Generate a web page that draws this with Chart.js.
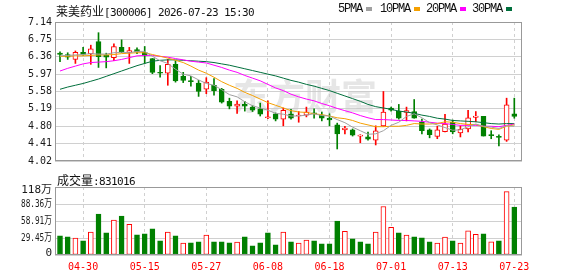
<!DOCTYPE html>
<html>
<head>
    <meta charset="utf-8">
    <title>莱美药业 日K</title>
    <script src="https://cdn.jsdelivr.net/npm/chart.js"></script>
    <style>
        body { margin: 0; background: #fff; }
        #wrap { position: relative; width: 578px; height: 276px; overflow: hidden; }
        #wrap canvas { position: absolute; left: 0; }
        #priceChart { top: 0; }
        #volChart { top: 170px; }
        .txt { position: absolute; white-space: nowrap; color: #111; line-height: 14px; }
        .cjk { font: 12px "Noto Sans CJK SC"; }
        .num { font: 11px "DejaVu Sans Mono"; letter-spacing: -0.62px; }
        .leg { font: 12px "Liberation Mono"; letter-spacing: -1.2px; }
        .swatch { display: inline-block; width: 6px; height: 4px; margin-left: 4px; vertical-align: middle; }
    </style>
</head>
<body>
<div id="wrap">
    <canvas id="priceChart" width="578" height="170"></canvas>
    <canvas id="volChart" width="578" height="106"></canvas>

    <div class="txt" style="left:56px; top:2px;"><span class="cjk">莱美药业</span><span class="num">[300006] 2026-07-23 15:30</span></div>
    <div class="txt leg" style="left:338px; top:2px;">5PMA<span class="swatch" style="background:#a0a0a0"></span></div>
    <div class="txt leg" style="left:380px; top:2px;">10PMA<span class="swatch" style="background:#f5a000"></span></div>
    <div class="txt leg" style="left:426px; top:2px;">20PMA<span class="swatch" style="background:#ff00ff"></span></div>
    <div class="txt leg" style="left:472px; top:2px;">30PMA<span class="swatch" style="background:#006f3c"></span></div>
    <div class="txt" style="left:57px; top:171px;"><span class="cjk">成交量</span><span class="num">:831016</span></div>
</div>

<script>
    // daily candles, 60 trading days
    var open = [6.44, 6.41, 6.30, 6.46, 6.43, 6.70, 6.40, 6.34, 6.57, 6.45,
        6.52, 6.46, 6.32, 6.00, 5.99, 6.19, 5.92, 5.81, 5.77, 5.63,
        5.72, 5.63, 5.36, 5.25, 5.29, 5.23, 5.19, 4.99, 5.08, 4.96,
        5.08, 5.03, 5.05, 5.10, 5.05, 4.98, 4.83, 4.72, 4.72, 4.58,
        4.56, 4.49, 4.81, 5.21, 5.14, 5.11, 5.13, 4.89, 4.72, 4.57,
        4.68, 4.89, 4.65, 4.74, 5.00, 5.02, 4.60, 4.56, 4.49, 5.08];
    var high = [6.47, 6.45, 6.49, 6.57, 6.62, 6.90, 6.44, 6.65, 6.74, 6.57,
        6.56, 6.59, 6.32, 6.16, 6.30, 6.27, 6.01, 5.92, 5.83, 5.89,
        5.87, 5.65, 5.43, 5.37, 5.36, 5.26, 5.32, 5.37, 5.10, 5.21,
        5.18, 5.13, 5.23, 5.19, 5.12, 5.08, 4.87, 4.80, 4.74, 4.61,
        4.67, 4.81, 5.58, 5.23, 5.29, 5.23, 5.40, 4.96, 4.74, 4.80,
        5.07, 4.94, 4.81, 5.16, 5.13, 5.02, 4.70, 4.61, 5.43, 5.43];
    var low = [6.25, 6.30, 6.21, 6.39, 6.19, 6.12, 6.11, 6.27, 6.45, 6.21,
        6.43, 6.21, 5.98, 5.90, 5.72, 5.79, 5.78, 5.70, 5.47, 5.53,
        5.50, 5.32, 5.19, 5.09, 5.14, 5.13, 5.03, 4.97, 4.92, 4.81,
        4.96, 4.89, 5.01, 4.98, 4.92, 4.81, 4.29, 4.63, 4.58, 4.43,
        4.49, 4.38, 4.80, 5.14, 4.96, 4.92, 4.98, 4.63, 4.54, 4.52,
        4.67, 4.63, 4.56, 4.67, 4.90, 4.58, 4.52, 4.36, 4.46, 4.98];
    var close = [6.41, 6.35, 6.46, 6.41, 6.54, 6.36, 6.35, 6.59, 6.47, 6.50,
        6.47, 6.38, 6.01, 5.99, 6.19, 5.82, 5.83, 5.80, 5.58, 5.79,
        5.60, 5.34, 5.25, 5.30, 5.25, 5.16, 5.07, 5.00, 4.96, 5.16,
        4.98, 5.05, 5.12, 5.08, 4.98, 4.94, 4.63, 4.76, 4.60, 4.59,
        4.51, 4.70, 5.12, 5.16, 4.98, 5.15, 4.98, 4.70, 4.61, 4.72,
        4.85, 4.67, 4.73, 4.99, 5.03, 4.58, 4.59, 4.55, 5.28, 5.02];

    // moving averages as drawn on the chart
    var ma5 = [6.38, 6.39, 6.40, 6.41, 6.43, 6.42, 6.42, 6.45, 6.46, 6.45,
        6.48, 6.48, 6.37, 6.27, 6.21, 6.08, 5.97, 5.93, 5.84, 5.76,
        5.72, 5.62, 5.51, 5.46, 5.35, 5.26, 5.21, 5.16, 5.09, 5.07,
        5.03, 5.03, 5.05, 5.08, 5.04, 5.03, 4.95, 4.88, 4.78, 4.70,
        4.62, 4.63, 4.70, 4.82, 4.89, 5.02, 5.08, 4.99, 4.88, 4.83,
        4.77, 4.71, 4.72, 4.79, 4.85, 4.80, 4.78, 4.75, 4.81, 4.80];
    var ma10 = [6.37, 6.37, 6.38, 6.38, 6.39, 6.40, 6.40, 6.41, 6.43, 6.44,
        6.45, 6.45, 6.41, 6.37, 6.33, 6.28, 6.23, 6.15, 6.06, 5.99,
        5.90, 5.80, 5.72, 5.65, 5.56, 5.49, 5.41, 5.33, 5.27, 5.21,
        5.15, 5.12, 5.11, 5.08, 5.06, 5.03, 4.99, 4.97, 4.93, 4.87,
        4.83, 4.79, 4.79, 4.80, 4.80, 4.82, 4.86, 4.85, 4.85, 4.86,
        4.90, 4.89, 4.86, 4.84, 4.84, 4.79, 4.75, 4.73, 4.80, 4.83];
    var ma20 = [6.04, 6.10, 6.15, 6.20, 6.23, 6.24, 6.25, 6.27, 6.30, 6.34,
        6.38, 6.39, 6.39, 6.37, 6.35, 6.32, 6.29, 6.26, 6.24, 6.22,
        6.17, 6.12, 6.06, 6.01, 5.94, 5.88, 5.82, 5.74, 5.66, 5.60,
        5.52, 5.46, 5.41, 5.37, 5.31, 5.26, 5.20, 5.15, 5.10, 5.04,
        4.99, 4.95, 4.95, 4.94, 4.93, 4.93, 4.92, 4.91, 4.89, 4.87,
        4.86, 4.84, 4.82, 4.82, 4.82, 4.80, 4.80, 4.79, 4.82, 4.85];
    var ma30 = [5.63, 5.68, 5.72, 5.76, 5.81, 5.86, 5.92, 5.98, 6.04, 6.10,
        6.16, 6.21, 6.26, 6.28, 6.29, 6.29, 6.28, 6.27, 6.26, 6.25,
        6.23, 6.20, 6.17, 6.13, 6.09, 6.05, 6.01, 5.97, 5.93, 5.88,
        5.83, 5.79, 5.74, 5.70, 5.65, 5.60, 5.54, 5.48, 5.42, 5.36,
        5.29, 5.24, 5.21, 5.18, 5.14, 5.12, 5.09, 5.05, 5.02, 4.98,
        4.96, 4.93, 4.92, 4.91, 4.90, 4.88, 4.86, 4.85, 4.86, 4.86];

    // volume in 万 (10k shares)
    var volume = [33.2, 31.5, 29.2, 24.6, 39.5, 70.9, 38.3, 60.6, 67.5, 53.2,
        34.9, 36.6, 45.2, 24.6, 39.5, 33.2, 20.6, 21.2, 22.9, 34.3,
        22.9, 22.9, 21.2, 22.3, 31.5, 16.0, 21.2, 38.3, 17.7, 39.5,
        22.9, 20.6, 25.7, 24.6, 19.4, 19.4, 58.9, 41.2, 28.0, 22.9,
        19.4, 39.5, 84.1, 48.0, 38.3, 34.3, 31.5, 29.7, 22.9, 20.6,
        30.9, 24.6, 20.6, 41.8, 36.0, 36.6, 22.9, 24.6, 109.8, 83.1];

    var tickDays = ['04-30', '05-15', '05-27', '06-08', '06-18', '07-01', '07-13', '07-23'];
    var tickAt = [3, 11, 19, 27, 35, 43, 51, 59];
    var priceTicks = [4.02, 4.41, 4.80, 5.19, 5.58, 5.97, 6.36, 6.75, 7.14];
    var volTicks = [0, 29.455, 58.91, 88.365, 117.82];
    var volTickLabels = ['0', '29.45万', '58.91万', '88.36万', '118万'];

    var UP = '#ff0000', DOWN = '#008000';
    var GRID = '#d0d0d0';
    var MONO = '"DejaVu Sans Mono", "Noto Sans CJK SC"';

    function isUp(i) {
        if (close[i] !== open[i]) return close[i] > open[i];
        return i > 0 && close[i] >= close[i - 1];
    }
    function volUp(i) {
        return i === 0 ? isUp(0) : close[i] >= close[i - 1];
    }
    function pts(arr) {
        return arr.map(function (v, i) { return { x: i, y: v }; });
    }

    function xAxis(showLabels) {
        return {
            type: 'linear', min: -0.65, max: 60, offset: false,
            afterBuildTicks: function (s) { s.ticks = tickAt.map(function (v) { return { value: v }; }); },
            afterFit: function (s) { s.height = showLabels ? 21 : 0; },
            grid: { color: GRID, drawTicks: false, offset: false },
            border: { display: false, dash: [3, 3] },
            ticks: {
                display: showLabels, autoSkip: false, maxRotation: 0, padding: 6,
                color: '#ff0000', font: { family: MONO, size: 10 },
                callback: function (v) { var k = tickAt.indexOf(v); return k < 0 ? '' : tickDays[k]; }
            }
        };
    }

    var framePlugin = {
        id: 'frame',
        afterDraw: function (chart) {
            var a = chart.chartArea, ctx = chart.ctx;
            ctx.save();
            ctx.strokeStyle = '#999';
            ctx.lineWidth = 1;
            ctx.strokeRect(Math.round(a.left) + 0.5, Math.round(a.top) + 0.5,
                Math.round(a.right - a.left) - 1, Math.round(a.bottom - a.top) - 1);
            ctx.restore();
        }
    };

    var watermark = {
        id: 'watermark',
        beforeDatasetsDraw: function (chart) {
            var ctx = chart.ctx;
            ctx.save();
            ctx.fillStyle = 'rgba(200,200,200,0.45)';
            ctx.font = 'bold 36px "Noto Sans CJK SC"';
            ctx.textBaseline = 'middle';
            ctx.fillText('东方财富', 233, 96);
            ctx.restore();
        }
    };

    var idx = open.map(function (v, i) { return i; });

    var priceChart = new Chart(document.getElementById('priceChart'), {
        type: 'bar',
        data: {
            datasets: [
                { type: 'line', data: pts(ma5), borderColor: '#a0a0a0', borderWidth: 1, pointRadius: 0, order: 0 },
                { type: 'line', data: pts(ma10), borderColor: '#f5a000', borderWidth: 1, pointRadius: 0, order: 0 },
                { type: 'line', data: pts(ma20), borderColor: '#ff00ff', borderWidth: 1, pointRadius: 0, order: 0 },
                { type: 'line', data: pts(ma30), borderColor: '#006f3c', borderWidth: 1, pointRadius: 0, order: 0 },
                {
                    data: idx.map(function (i) { return { x: i, y: [Math.min(open[i], close[i]), Math.max(open[i], close[i])] }; }),
                    backgroundColor: idx.map(function (i) { return isUp(i) ? '#ffffff' : DOWN; }),
                    borderColor: idx.map(function (i) { return isUp(i) ? UP : DOWN; }),
                    borderWidth: 1, borderSkipped: false, barThickness: 5, minBarLength: 1, grouped: false, order: 1
                },
                {
                    data: idx.map(function (i) { return { x: i, y: [low[i], high[i]] }; }),
                    backgroundColor: idx.map(function (i) { return isUp(i) ? UP : DOWN; }),
                    barThickness: 1, grouped: false, order: 2
                }
            ]
        },
        options: {
            responsive: false, animation: false, devicePixelRatio: 1,
            layout: { padding: { top: 22, right: 56, bottom: 5, left: 0 } },
            plugins: { legend: { display: false }, tooltip: { enabled: false } },
            scales: {
                x: xAxis(false),
                y: {
                    min: 4.02, max: 7.14,
                    afterBuildTicks: function (s) { s.ticks = priceTicks.map(function (v) { return { value: v }; }); },
                    afterFit: function (s) { s.width = 55; },
                    grid: { color: GRID, drawTicks: false },
                    border: { display: false },
                    ticks: {
                        padding: 3, color: '#1a1a1a', font: { family: MONO, size: 10 },
                        callback: function (v) { return v.toFixed(2); }
                    }
                }
            }
        },
        plugins: [watermark, framePlugin]
    });

    var volLabels = {
        id: 'volLabels',
        afterDraw: function (chart) {
            var s = chart.scales.y, ctx = chart.ctx;
            ctx.save();
            ctx.fillStyle = '#1a1a1a';
            ctx.font = '11px ' + MONO;
            ctx.textAlign = 'right';
            ctx.textBaseline = 'middle';
            volTicks.forEach(function (v, k) {
                var y = s.getPixelForValue(v);
                if (k === volTicks.length - 1) y += 3;
                if (k === 0) y -= 2;
                ctx.fillText(volTickLabels[k], 52, y, 31);
            });
            ctx.restore();
        }
    };

    var volChart = new Chart(document.getElementById('volChart'), {
        type: 'bar',
        data: {
            datasets: [{
                data: idx.map(function (i) { return { x: i, y: volume[i] }; }),
                backgroundColor: idx.map(function (i) { return volUp(i) ? '#ffffff' : DOWN; }),
                borderColor: idx.map(function (i) { return volUp(i) ? UP : DOWN; }),
                borderWidth: 1, borderSkipped: false, barThickness: 5
            }]
        },
        options: {
            responsive: false, animation: false, devicePixelRatio: 1,
            layout: { padding: { top: 17, right: 56, bottom: 0, left: 0 } },
            plugins: { legend: { display: false }, tooltip: { enabled: false } },
            scales: {
                x: xAxis(true),
                y: {
                    min: 0, max: 117.82,
                    afterBuildTicks: function (s) { s.ticks = volTicks.map(function (v) { return { value: v }; }); },
                    afterFit: function (s) { s.width = 55; },
                    grid: { color: GRID, drawTicks: false },
                    border: { display: false },
                    ticks: { display: false }
                }
            }
        },
        plugins: [volLabels, framePlugin]
    });
</script>
</body>
</html>
